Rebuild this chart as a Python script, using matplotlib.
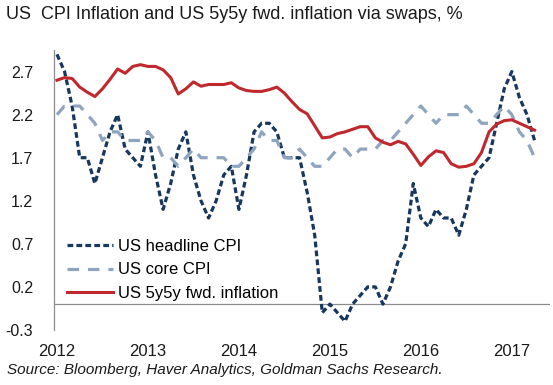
import matplotlib
matplotlib.use("Agg")
import matplotlib.pyplot as plt
import numpy as np

plt.rcParams['font.family'] = ['Liberation Sans', 'DejaVu Sans']

start_year = 2012
headline_cpi = [2.9, 2.7, 2.3, 1.7, 1.7, 1.4, 1.7, 2.0, 2.2, 1.8, 1.7,
                1.6, 2.0, 1.5, 1.1, 1.4, 1.8, 2.0, 1.5, 1.2, 1.0, 1.2, 1.5,
                1.6, 1.1, 1.5, 2.0, 2.1, 2.1, 2.0, 1.7, 1.7, 1.7, 1.3, 0.8,
                -0.1, 0.0, -0.1, -0.2, 0.0, 0.1, 0.2, 0.2, 0.0, 0.2, 0.5, 0.7,
                1.4, 1.0, 0.9, 1.1, 1.0, 1.0, 0.8, 1.1, 1.5, 1.6, 1.7, 2.1,
                2.5, 2.7, 2.4, 2.2, 1.9]
core_cpi = [2.2, 2.3, 2.3, 2.3, 2.2, 2.1, 1.9, 2.0, 2.0, 1.9, 1.9,
            1.9, 2.0, 1.9, 1.7, 1.7, 1.6, 1.7, 1.8, 1.7, 1.7, 1.7, 1.7,
            1.6, 1.6, 1.7, 1.8, 2.0, 1.9, 1.9, 1.7, 1.7, 1.8, 1.7, 1.6,
            1.6, 1.7, 1.8, 1.8, 1.7, 1.8, 1.8, 1.8, 1.9, 1.9, 2.0, 2.1,
            2.2, 2.3, 2.2, 2.1, 2.2, 2.2, 2.2, 2.3, 2.2, 2.1, 2.1, 2.2,
            2.3, 2.2, 2.0, 1.9, 1.7]
fwd_5y5y = [2.60, 2.63, 2.62, 2.52, 2.46, 2.41, 2.50, 2.61, 2.73, 2.68, 2.76,
            2.78, 2.76, 2.76, 2.72, 2.63, 2.44, 2.50, 2.58, 2.53, 2.55, 2.55, 2.55,
            2.57, 2.51, 2.48, 2.47, 2.47, 2.49, 2.52, 2.45, 2.35, 2.26, 2.21, 2.07,
            1.93, 1.94, 1.98, 2.00, 2.03, 2.06, 2.06, 1.93, 1.88, 1.85, 1.89, 1.86,
            1.74, 1.61, 1.71, 1.78, 1.76, 1.63, 1.59, 1.60, 1.63, 1.76, 2.00, 2.09,
            2.13, 2.14, 2.10, 2.06, 2.02]
year_ticks = [2012, 2013, 2014, 2015, 2016, 2017]
y_ticks = [-0.3, 0.2, 0.7, 1.2, 1.7, 2.2, 2.7]

t = start_year + np.arange(len(headline_cpi)) / 12.0

fig = plt.figure(figsize=(5.53, 3.85), dpi=100)
ax = fig.add_axes([0.0976, 0.143, 0.897, 0.727])

ax.plot(t, headline_cpi, color='#17375e', lw=2.3, dashes=(1.8, 1.0),
        label='US headline CPI', dash_capstyle='butt')
ax.plot(t, core_cpi, color='#8ea4bf', lw=2.3, dashes=(3.6, 2.8),
        label='US core CPI')
ax.plot(t, fwd_5y5y, color='#c0282d', lw=2.2, label='US 5y5y fwd. inflation')

ax.axhline(0, color='#8c8c8c', lw=0.9, zorder=0)
ax.set_xlim(2011.967, 2017.42)
ax.set_ylim(-0.3, 2.95)
ax.set_xticks(year_ticks)
ax.set_xticklabels([str(y) for y in year_ticks], fontsize=12, color='#1a1a1a')
ax.set_yticks(y_ticks)
ax.set_yticklabels([f"{v:.1f}" for v in y_ticks], fontsize=11.5, color='#1a1a1a')
ax.tick_params(axis='both', length=0)
ax.tick_params(axis='y', pad=15)
ax.tick_params(axis='x', pad=10)
for s in ['top', 'right', 'bottom']:
    ax.spines[s].set_visible(False)
ax.spines['left'].set_color('#8c8c8c')
ax.spines['left'].set_linewidth(0.9)

leg = ax.legend(loc='lower left', bbox_to_anchor=(0.012, 0.079), frameon=False,
                fontsize=12, handlelength=2.8, handletextpad=0.3,
                labelspacing=0.52, borderaxespad=0)

fig.text(0.011, 0.963, 'US  CPI Inflation and US 5y5y fwd. inflation via swaps, %',
         fontsize=13, ha='left', va='center', color='#1a1a1a')
fig.text(0.013, 0.04, 'Source: Bloomberg, Haver Analytics, Goldman Sachs Research.',
         fontsize=11, style='italic', ha='left', va='center', color='#1a1a1a')

fig.savefig('out.png', dpi=100)
